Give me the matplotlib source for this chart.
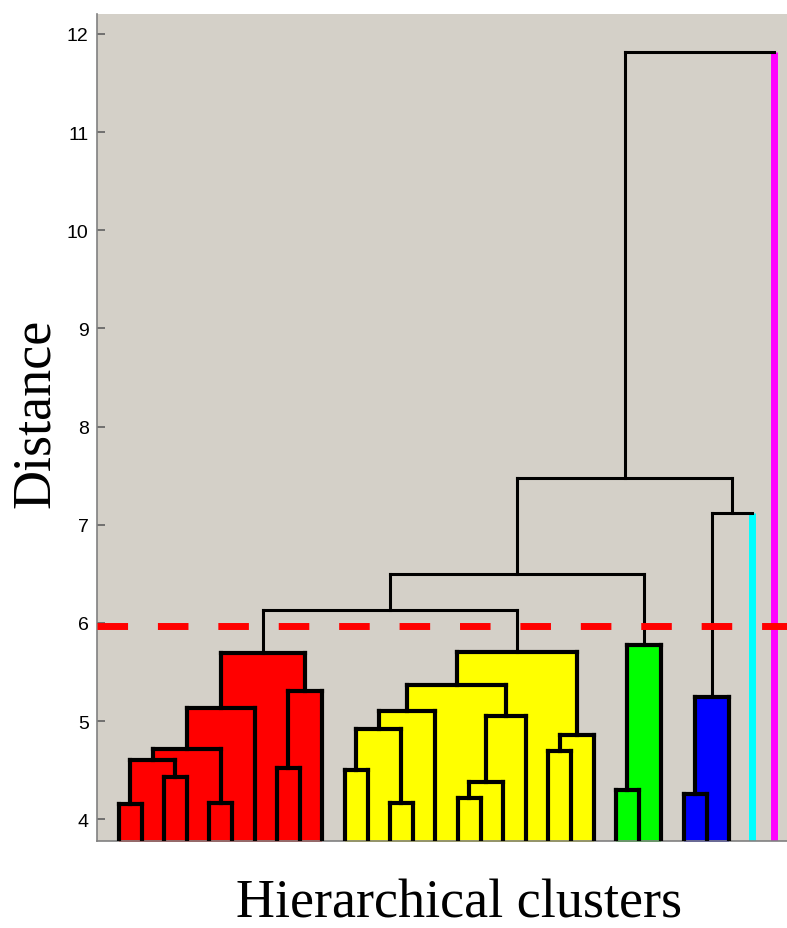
import matplotlib.pyplot as plt

# leaves 0..29, merged nodes numbered from 30 upward
n_leaves = 30
merges = [
    # red cluster
    (0, 1, 4.16), (2, 3, 4.43), (30, 31, 4.60), (4, 5, 4.17), (32, 33, 4.72),
    (34, 6, 5.13), (7, 8, 4.52), (36, 9, 5.31), (35, 37, 5.69),
    # yellow cluster
    (10, 11, 4.50), (12, 13, 4.17), (39, 40, 4.92), (41, 14, 5.10),
    (15, 16, 4.22), (43, 17, 4.38), (44, 18, 5.05), (42, 45, 5.37),
    (19, 20, 4.70), (47, 21, 4.86), (46, 48, 5.70),
    # green cluster
    (22, 23, 4.30), (50, 24, 5.78),
    # blue cluster
    (25, 26, 4.26), (52, 27, 5.25),
    # upper links
    (38, 49, 6.13), (54, 51, 6.50), (53, 28, 7.12), (55, 56, 7.48), (57, 29, 11.82),
]
merge_colors = (["#ff0000"] * 9 + ["#ffff00"] * 11 + ["#00ff00"] * 2
                + ["#0000ff"] * 2 + [None] * 5)
leaf_colors = {28: "#00ffff", 29: "#ff00ff"}
cut_height = 5.97

fig = plt.figure(figsize=(7.87, 9.29), dpi=100)
ax = fig.add_axes([0.1233, 0.0936, 0.8767, 0.8903])
ax.set_facecolor("#d4d0c8")

xpos = {i: float(i) for i in range(n_leaves)}
hgt = {i: 0.0 for i in range(n_leaves)}
for k, (a, b, h) in enumerate(merges):
    node = n_leaves + k
    xpos[node] = (xpos[a] + xpos[b]) / 2
    hgt[node] = h

# fills first
for k, (a, b, h) in enumerate(merges):
    c = merge_colors[k]
    if c is not None:
        ax.fill_between([xpos[a], xpos[b]], 0, h, color=c, lw=0, zorder=1)

# outlines
for k, (a, b, h) in enumerate(merges):
    c = merge_colors[k]
    lw = 3.0 if c is not None else 2.2
    for child in (a, b):
        if child in leaf_colors:
            ax.plot([xpos[child], xpos[child]], [0, h], color=leaf_colors[child],
                    lw=5, solid_capstyle="butt", zorder=2)
        else:
            ax.plot([xpos[child], xpos[child]], [hgt[child], h], color="black",
                    lw=lw, zorder=3)
    ax.plot([xpos[a], xpos[b]], [h, h], color="black", lw=lw, zorder=3,
            solid_capstyle="projecting")

ax.axhline(cut_height, color="#ff0000", lw=5, dashes=(4.4, 4.3), zorder=4)

ax.set_xlim(-0.97, 29.56)
ax.set_ylim(3.778, 12.204)
ax.set_yticks(range(4, 13))
ax.set_xticks([])
ax.tick_params(axis="y", direction="in", length=6, width=1.2, color="#606060",
               labelsize=14, pad=6)
for lab in ax.get_yticklabels():
    lab.set_fontfamily("Liberation Sans")
for s in ("top", "right"):
    ax.spines[s].set_visible(False)
for s in ("left", "bottom"):
    ax.spines[s].set_color("#808080")
    ax.spines[s].set_linewidth(1.2)

fig.text(0.045, 0.555, "Distance", rotation=90, ha="center", va="center",
         fontsize=39, family="Liberation Serif")
fig.text(0.583, 0.027, "Hierarchical clusters", ha="center", va="center",
         fontsize=39, family="Liberation Serif")

fig.savefig("out.png", dpi=100)
